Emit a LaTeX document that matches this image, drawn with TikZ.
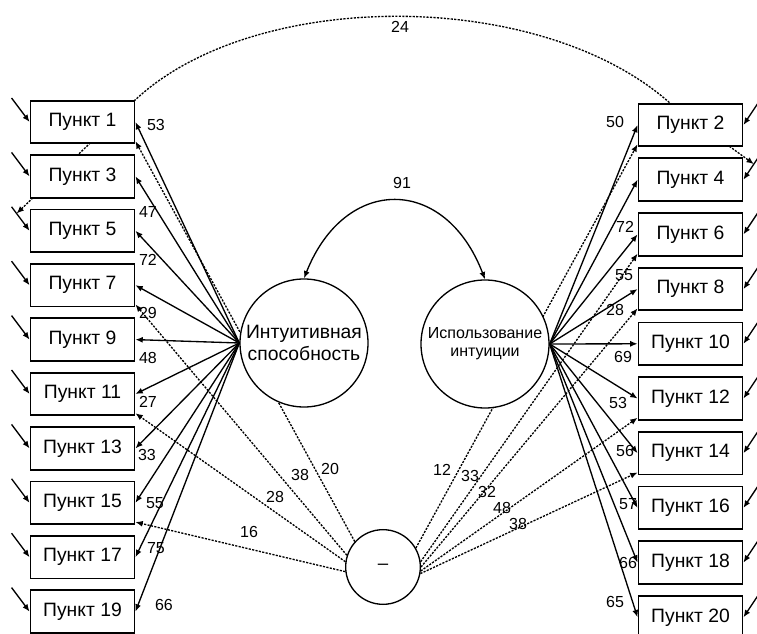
\documentclass[tikz,border=0pt]{standalone}
\usepackage{fontspec}
\setmainfont{Liberation Sans}
\usetikzlibrary{arrows.meta,backgrounds,calc}
\begin{document}
\begin{tikzpicture}[x=0.75pt,y=-0.75pt,>={Latex[length=5.5pt,width=4.5pt]},
  item/.style={draw,line width=1.4pt,fill=white,minimum width=78pt,minimum height=32pt,inner sep=0pt,font=\fontsize{14.5}{16}\selectfont},
  factor/.style={draw,circle,line width=1pt,fill=white,minimum size=96pt,inner sep=0pt,align=center},
  num/.style={font=\fontsize{12}{13}\selectfont,inner sep=0pt},
  load/.style={line width=1pt,->},
  mload/.style={line width=1pt,dash pattern=on 1.6pt off 1pt,->}]
\useasboundingbox (0,0) rectangle (757,634);
\foreach \i in {0,...,9}{
  \pgfmathtruncatemacro\lft{2*\i+1}
  \pgfmathtruncatemacro\rgt{2*\i+2}
  \node[item] (p\lft) at (82.5,122+54.4*\i) {Пункт \lft};
  \node[item] (p\rgt) at (690.5,125+54.7*\i) {Пункт \rgt};
  \coordinate (e\lft) at ([shift={(-18,-24)}]p\lft.west);
  \coordinate (e\rgt) at ([shift={(16,-24)}]p\rgt.east);
  \draw[load] (e\lft) -- (p\lft.west);
  \draw[load] (e\rgt) -- (p\rgt.east);
}
\node[factor,font=\fontsize{14.5}{16}\selectfont] (fa) at (304,343) {Интуитивная\\способность};
\node[factor,font=\fontsize{12}{13.5}\selectfont] (fb) at (485,344) {Использование\\интуиции};
\node[factor,minimum size=56pt,font=\fontsize{14}{16}\selectfont] (fm) at (383,567) {--};
\begin{scope}[on background layer]
\draw[mload,<->] ($(e5)!.28!(p5.west)$) -- (p1.north east)
  .. controls (255,-12) and (540,-12) .. ([xshift=24pt]p2.north west) -- ($(e4)!.35!(p4.east)$);
\foreach \n/\a/\w/\lx/\ly in {1/138/20/330/469,7/162/38/300/475,11/172/28/275/497,15/187/16/249/532}{
  \draw[mload] (fm.\a) -- (p\n.-20);
  \node[num] (m\n) at (\lx,\ly) {\w};
}
\foreach \n/\a/\w/\lx/\ly in {2/30/12/442/470,6/8/33/470/476,8/0/32/487/492,12/-6/48/502/508,14/-10/38/518/524}{
  \draw[mload] (fm.\a) -- (p\n.200);
  \node[num] (m\n) at (\lx,\ly) {\w};
}
\end{scope}
\node[num] (c24) at (400,27) {24};
\foreach \n/\w/\lx/\ly in {1/53/156/125,3/47/148/212,5/72/148/260,7/29/148/313,9/48/148/358,11/27/148/402,13/33/147/455,15/55/155/503,17/75/156/548,19/66/164/605}{
  \draw[load] (fa.west) -- (p\n.east);
  \node[num] (w\n) at (\lx,\ly) {\w};
}
\foreach \n/\w/\lx/\ly in {2/50/615/122,4/72/625/227,6/55/624/275,8/28/615/310,10/69/623/357,12/53/618/403,14/56/625/451,16/57/628/504,18/66/628/563,20/65/615/602}{
  \draw[load] (fb.east) -- (p\n.west);
  \node[num] (w\n) at (\lx,\ly) {\w};
}
\draw[load,<->] (fa.north) .. controls (345,175) and (445,175) .. (fb.north);
\node[num] (c91) at (402,183) {91};
\end{tikzpicture}
\end{document}
